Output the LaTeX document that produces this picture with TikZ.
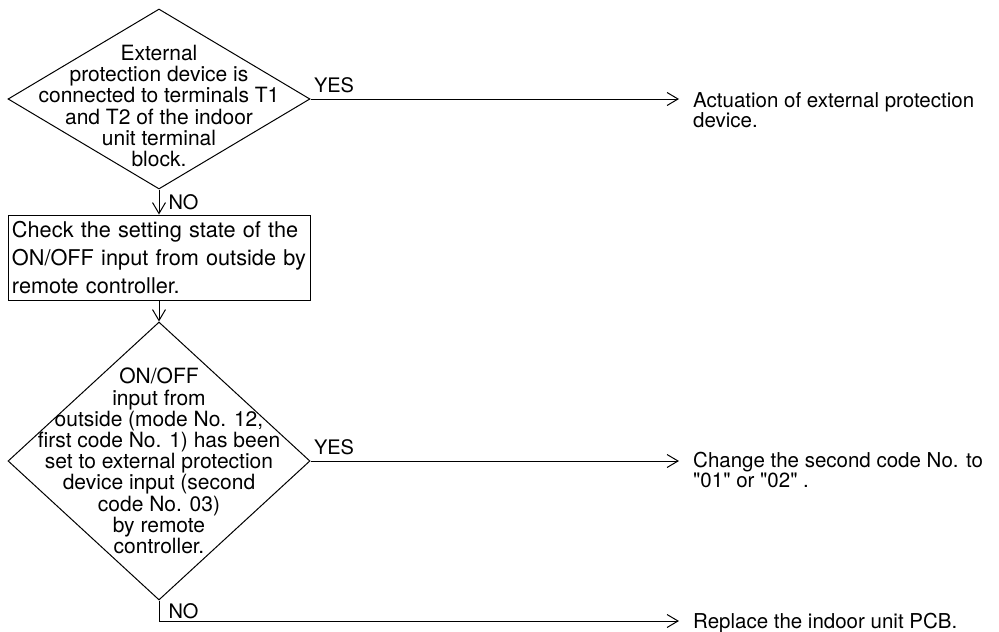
\documentclass[tikz,border=0pt]{standalone}
\usepackage{fontspec}
\setmainfont{TeX Gyre Heros}
\usetikzlibrary{shapes.geometric,arrows.meta}

\tikzset{
  decision/.style={draw, diamond, line width=1pt, minimum width=302pt, minimum height=#1, inner sep=0pt},
  dtext/.style={align=center, inner sep=0pt, font=\fontsize{21}{21.2}\selectfont},
  actionbox/.style={draw, rectangle, line width=1pt, text width=294pt, minimum height=85pt,
    inner xsep=4pt, inner ysep=0pt, align=left, font=\fontsize{21.7}{28.3}\selectfont},
  outcome/.style={anchor=north west, align=left, inner xsep=14pt, inner ysep=0pt,
    font=\fontsize{20.5}{19}\selectfont},
  answer/.style={font=\fontsize{20}{20}\selectfont},
  flow/.style={line width=1pt, -{Straight Barb[length=11pt,width=13pt]}}
}

\begin{document}
\begin{tikzpicture}[x=1pt, y=-1pt]
        \useasboundingbox (0,0) rectangle (999,632);
        % Decisions and the check step
        \node[decision=180pt, label={[dtext, yshift=-7pt]center:External\\protection device is\\connected to terminals T1\\and T2 of the indoor\\unit terminal\\block.}] (dia1) at (159,99) {};
        \node[actionbox] (check) at (159,257.5) {Check the setting state of the\\ON/OFF input from outside by\\remote controller.};
        \node[decision=278pt, label={[dtext]center:ON/OFF\\input from\\outside (mode No. 12,\\first code No. 1) has been\\set to external protection\\device input (second\\code No. 03)\\by remote\\controller.}] (dia2) at (159,461) {};
        % Outcomes
        \node[outcome] (act) at (679,92) {Actuation of external protection\\device.};
        \node[outcome] (chg) at (679,452) {Change the second code No. to\\\textquotedbl 01\textquotedbl{} or \textquotedbl 02\textquotedbl{} .};
        \coordinate (replin) at (679,621);
        \node[outcome] (repl) at (679,613) {Replace the indoor unit PCB.};
        % Connectors
        \draw[flow] (dia1.east) -- (dia1.east -| act.west)
          node[answer, pos=0, anchor=south west, inner xsep=3pt, inner ysep=6pt] {YES};
        \draw[flow] (dia1.south) -- (check.north)
          node[answer, midway, anchor=west, inner xsep=9pt] {NO};
        \draw[flow] (check.south) -- (dia2.north);
        \draw[flow] (dia2.east) -- (dia2.east -| chg.west)
          node[answer, pos=0, anchor=south west, inner xsep=3pt, inner ysep=6pt] {YES};
        \draw[flow] (dia2.south) |- (replin)
          node[answer, pos=0.25, anchor=west, inner xsep=9pt] {NO};
      \end{tikzpicture}
\end{document}
